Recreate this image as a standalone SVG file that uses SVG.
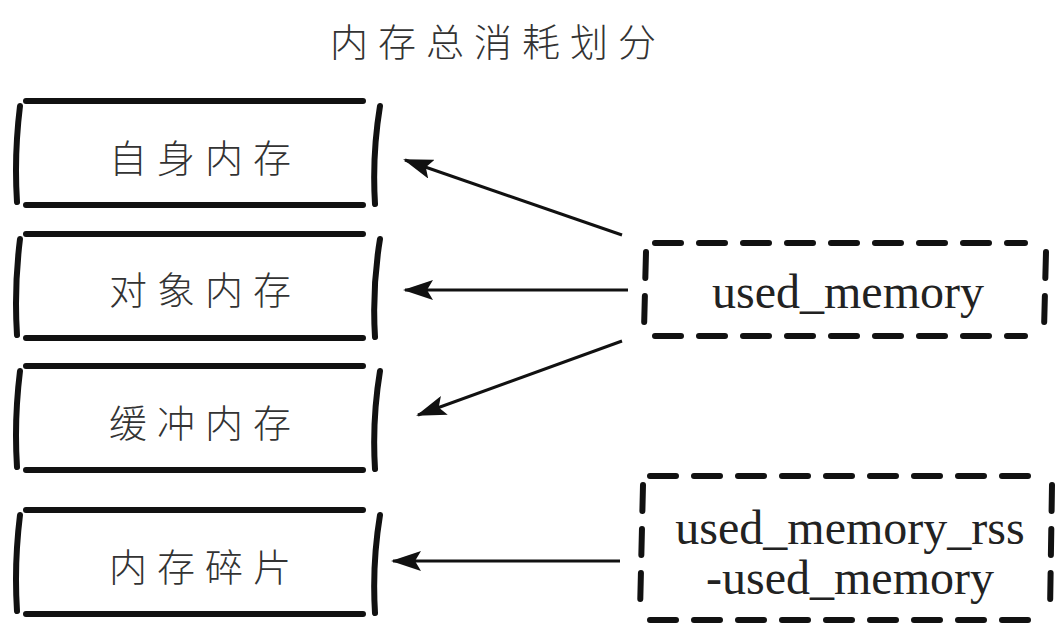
<svg xmlns="http://www.w3.org/2000/svg" width="1057" height="626" viewBox="0 0 1057 626">
<style>
.bx{fill:none;stroke:#111;stroke-width:6;stroke-linecap:round}
.db{fill:none;stroke:#111;stroke-width:6;stroke-dasharray:26 18;stroke-linecap:round}
.cn{font-family:"Noto Sans CJK SC","Noto Sans CJK JP",sans-serif;font-size:38px;font-weight:300;fill:#333;text-anchor:middle;letter-spacing:10px}
.en{font-family:"Liberation Serif",serif;font-size:48px;fill:#222;text-anchor:middle}
.ar{stroke:#111;stroke-width:3;fill:none}
</style>
<defs>
<marker id="ah2" viewBox="0 0 30 20" refX="28" refY="10" markerWidth="30" markerHeight="20" orient="auto" markerUnits="userSpaceOnUse">
<path d="M0,0 L30,10 L0,20 L6,10 z" fill="#111"/>
</marker>
</defs>
<rect width="1057" height="626" fill="#fff"/>
<text x="498" y="56" class="cn" style="font-size:38px">内存总消耗划分</text>
<g id="n1">
<path class="bx" d="M26,101 L363,101 M26,205 L363,205 M20,106 Q14,155 17,202 M380,106 Q372,155 375,204"/>
<text x="205" y="172" class="cn">自身内存</text>
</g>
<g id="n2">
<path class="bx" d="M26,234 L363,234 M26,338 L363,338 M20,239 Q14,288 17,335 M380,239 Q372,288 375,337"/>
<text x="205" y="304" class="cn">对象内存</text>
</g>
<g id="n3">
<path class="bx" d="M26,366 L363,366 M26,470 L363,470 M20,371 Q14,420 17,467 M380,371 Q372,420 375,469"/>
<text x="205" y="437" class="cn">缓冲内存</text>
</g>
<g id="n4">
<path class="bx" d="M26,510 L363,510 M26,614 L363,614 M20,515 Q14,564 17,611 M380,515 Q372,564 375,613"/>
<text x="205" y="581" class="cn">内存碎片</text>
</g>
<g id="n5">
<path class="db" d="M655,243 L1025,243 M655,336 L1025,336 M646,252 L644,330 M1046,252 L1044,330"/>
<text x="848" y="308" class="en">used_memory</text>
</g>
<g id="n6">
<path class="db" d="M650,476 L1040,476 M650,620 L1040,620 M643,485 L640,612 M1052,485 L1050,612"/>
<text x="850" y="544" class="en">used_memory_rss</text>
<text x="850" y="594" class="en">-used_memory</text>
</g>
<g id="connectors">
<line class="ar" x1="622" y1="235" x2="405" y2="160" marker-end="url(#ah2)"/>
<line class="ar" x1="628" y1="290" x2="405" y2="290" marker-end="url(#ah2)"/>
<line class="ar" x1="622" y1="341" x2="418" y2="415" marker-end="url(#ah2)"/>
<line class="ar" x1="620" y1="561" x2="393" y2="561" marker-end="url(#ah2)"/>
</g>
</svg>
